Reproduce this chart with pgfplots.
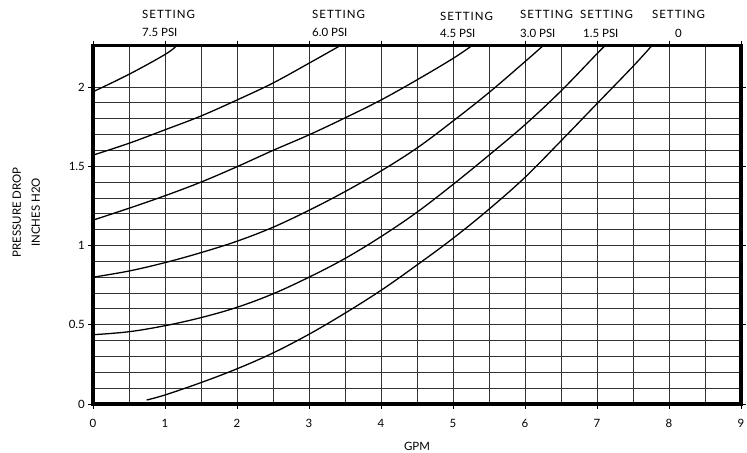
\documentclass[border=0pt]{standalone}
\usepackage{fontspec}
\setmainfont{Lato}
\newfontfamily\spaced[LetterSpace=9]{Lato}
\usepackage{pgfplots}
\pgfplotsset{compat=1.18}

\begin{document}
\fontsize{11.5}{13}\selectfont
\begin{tikzpicture}
\begin{axis}[
    x=72bp, y=158.5bp,
    xmin=0, xmax=9, ymin=0, ymax=2.26,
    clip=false,
    xtick={0,1,...,9},
    ytick={0,0.5,1,1.5,2},
    minor x tick num=1,
    minor y tick num=4,
    grid=both,
    major grid style={black!80, line width=0.8bp},
    minor grid style={black!80, line width=0.8bp},
    tick align=outside,
    major tick length=5bp,
    minor tick length=0pt,
    tick style={black, line width=0.6bp},
    axis line style={line width=3.2bp},
    /pgf/number format/assume math mode=true,
    ticklabel style={font=\fontsize{11.5}{13}\selectfont},
    xticklabel style={inner sep=0pt, anchor=north, yshift=-10bp},
    yticklabel style={inner sep=0pt, anchor=east, xshift=-3bp},
    curve/.style={black, line width=1.3bp, smooth, tension=0.6, no markers},
]

% SETTING 7.5 PSI
\addplot[curve] coordinates {(0,1.97) (0.5,2.08) (1.0,2.205) (1.16,2.26)};
% SETTING 6.0 PSI
\addplot[curve] coordinates {(0,1.57) (0.5,1.645) (1,1.73) (1.5,1.817) (2,1.918) (2.5,2.025) (3,2.15) (3.43,2.26)};
% SETTING 4.5 PSI
\addplot[curve] coordinates {(0,1.16) (0.5,1.235) (1,1.314) (1.5,1.40) (2,1.497) (2.5,1.60) (3,1.698) (3.5,1.805) (4,1.918) (4.5,2.045) (5,2.18) (5.26,2.26)};
% SETTING 3.0 PSI
\addplot[curve] coordinates {(0,0.80) (0.5,0.839) (1,0.892) (1.5,0.955) (2,1.027) (2.5,1.115) (3,1.222) (3.5,1.34) (4,1.47) (4.5,1.615) (5,1.785) (5.5,1.965) (6,2.16) (6.25,2.26)};
% SETTING 1.5 PSI
\addplot[curve] coordinates {(0,0.437) (0.5,0.456) (1,0.494) (1.5,0.545) (2,0.61) (2.5,0.695) (3,0.80) (3.5,0.918) (4,1.056) (4.5,1.21) (5,1.385) (5.5,1.57) (6,1.762) (6.5,1.975) (7,2.21) (7.11,2.26)};
% SETTING 0
\addplot[curve] coordinates {(0.745,0.025) (1,0.057) (1.5,0.135) (2,0.222) (2.5,0.322) (3,0.44) (3.5,0.573) (4,0.717) (4.5,0.877) (5,1.045) (5.5,1.229) (6,1.43) (6.5,1.66) (7,1.895) (7.5,2.13) (7.76,2.26)};

% setting labels above the frame
\node[anchor=west, inner sep=0pt] at (axis cs:0.6806,2.4606) {\spaced SETTING};
\node[anchor=west, inner sep=0pt] at (axis cs:0.6806,2.347) {7.5 PSI};
\node[anchor=west, inner sep=0pt] at (axis cs:3.0417,2.4606) {\spaced SETTING};
\node[anchor=west, inner sep=0pt] at (axis cs:3.0417,2.347) {6.0 PSI};
\node[anchor=west, inner sep=0pt] at (axis cs:4.8194,2.4448) {\spaced SETTING};
\node[anchor=west, inner sep=0pt] at (axis cs:4.8194,2.3407) {4.5 PSI};
\node[anchor=west, inner sep=0pt] at (axis cs:5.9306,2.4606) {\spaced SETTING};
\node[anchor=west, inner sep=0pt] at (axis cs:5.9306,2.3407) {3.0 PSI};
\node[anchor=west, inner sep=0pt] at (axis cs:6.7639,2.4606) {\spaced SETTING};
\node[anchor=west, inner sep=0pt] at (axis cs:6.8056,2.3407) {1.5 PSI};
\node[inner sep=0pt] at (axis cs:8.1319,2.4606) {\spaced SETTING};
\node[inner sep=0pt] at (axis cs:8.1319,2.3407) {0};

% axis labels
\node[rotate=90, inner sep=0pt] at (axis cs:-1.0597,1.2082) {PRESSURE DROP};
\node[rotate=90, inner sep=0pt] at (axis cs:-0.7944,1.2082) {INCHES H2O};
\node[inner sep=0pt] at (axis cs:4.5,-0.265) {GPM};

% page frame
\path (axis cs:-1.2917,-0.3091) rectangle (axis cs:9.0833,2.5489);
\end{axis}
\end{tikzpicture}
\end{document}
